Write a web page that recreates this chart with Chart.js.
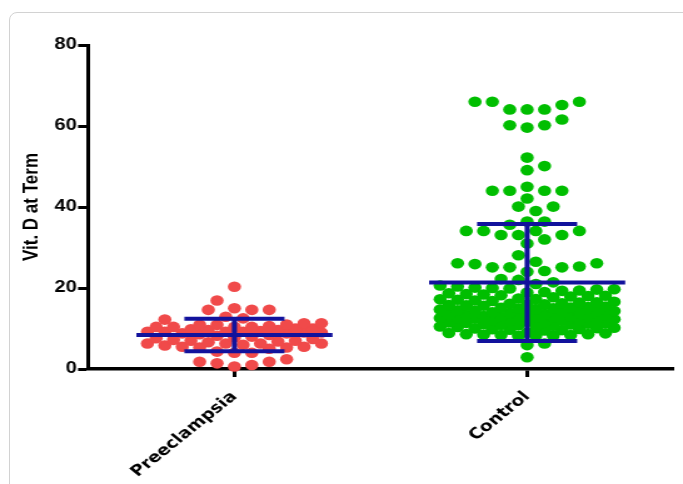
<!DOCTYPE html>
<html>
<head>
<meta charset="utf-8">
<script src="https://cdn.jsdelivr.net/npm/chart.js@4.4.0/dist/chart.umd.min.js"></script>
<style>
  html, body { margin: 0; padding: 0; background: #fff; }
  #wrap { position: relative; width: 683px; height: 484px; overflow: hidden; }
  #frame { position: absolute; left: 9px; top: 12px; width: 720px; height: 520px; border: 1px solid #d2d2d2; border-radius: 8px; }
  #chart { position: absolute; left: 0; top: 0; }
</style>
</head>
<body>
<div id="wrap"><div id="frame"></div><canvas id="chart" width="546" height="484" style="width:683px;height:484px"></canvas></div>
<script>
const categories = ['Preeclampsia', 'Control'];

const preeclampsiaValues = [
  20.3, 16.9, 15.0, 14.6, 14.6, 14.6, 12.9, 12.5, 12.2, 11.3, 11.3, 11.0,
  10.9, 10.9, 10.6, 10.4, 10.4, 10.4, 10.4, 10.0, 10.0, 9.8, 9.6, 9.6,
  9.4, 9.2, 9.2, 9.2, 9.2, 9.0, 9.0, 8.8, 8.8, 8.6, 8.4, 8.2, 8.0, 7.8,
  7.6, 7.4, 7.2, 7.0, 7.0, 6.8, 6.6, 6.3, 6.3, 6.3, 6.3, 6.0, 5.8, 5.5,
  5.5, 5.3, 5.3, 5.0, 4.3, 4.0, 4.0, 2.4, 1.8, 1.8, 1.4, 1.0, 0.6
];

const controlValues = [
  66.0, 66.0, 66.0, 65.2, 64.1, 64.1, 64.1, 61.6, 60.2, 60.2, 59.6, 52.2,
  50.1, 49.1, 45.0, 44.0, 44.0, 44.0, 44.0, 42.1, 40.1, 40.1, 39.0, 36.4,
  36.4, 35.6, 34.1, 34.1, 34.1, 34.1, 33.1, 33.1, 33.1, 32.0, 31.0, 28.1,
  26.5, 26.1, 26.1, 25.9, 25.3, 25.1, 25.1, 25.1, 24.2, 24.0, 22.2, 22.0,
  21.4,
  21.0, 20.6, 20.4, 20.1, 20.0, 19.9, 19.7, 19.6, 19.4, 19.3, 19.0, 18.9,
  18.7, 18.5, 18.4, 18.2, 18.1, 18.0, 17.9, 17.7, 17.4, 17.3, 17.2, 17.1,
  16.9, 16.8, 16.6, 16.5, 16.4, 16.2, 16.1, 16.0, 15.9, 15.8, 15.7, 15.6,
  15.4, 15.3, 15.2, 15.1, 15.0, 14.9, 14.8, 14.7, 14.5, 14.4, 14.3, 14.2,
  14.1, 14.0, 13.9, 13.8, 13.7, 13.6, 13.5, 13.4, 13.3, 13.2, 13.1, 13.0,
  12.9, 12.8, 12.8, 12.7, 12.6, 12.5, 12.4, 12.3, 12.2, 12.1, 12.0, 11.9,
  11.8, 11.7, 11.6, 11.5, 11.4, 11.3, 11.2, 11.1, 11.0, 10.9, 10.8, 10.7,
  10.6, 10.5, 10.4, 10.2, 10.1, 10.0, 9.9, 9.8, 9.7, 9.6, 9.5,
  9.0, 8.9, 8.8, 8.6, 8.6, 8.5, 8.4, 8.4, 8.3, 8.3, 8.2, 6.3, 5.9, 2.9
];

const groupMeans = [8.4, 21.35];
const groupSD = [4.0, 14.45];
const yTicks = [0, 20, 40, 60, 80];

// the source figure is stretched sideways, so the canvas is drawn narrow and widened by css
const stretch = 683 / 546;
const pxPerY = 324 / 80;
const pxPerX = 234 * stretch;   // screen px per x unit (x axis runs 0..2 over 468 canvas px)

// simple beeswarm: place sorted values centre-out, avoiding overlap where possible
function swarm(values, center, maxHalf) {
  const dotW = 13, dotH = 11, step = 8.7;
  const kMax = Math.floor(maxHalf / step);
  const order = [0];
  for (let k = 1; k <= kMax; k++) order.push(k, -k);
  const placed = [];
  values.slice().sort((a, b) => a - b).forEach(v => {
    const py = v * pxPerY;
    let best = 0, bestGap = -1;
    for (const k of order) {
      const px = k * step;
      let gap = Infinity;
      placed.forEach(p => {
        const d = Math.hypot((p.px - px) / dotW, (p.py - py) / dotH);
        if (d < gap) gap = d;
      });
      if (gap >= 0.98) { best = px; break; }
      if (gap > bestGap) { bestGap = gap; best = px; }
    }
    placed.push({px: best, py: py, v: v});
  });
  return placed.map(p => ({x: center + p.px / pxPerX, y: p.v}));
}

function errorBar(i) {
  const c = i + 0.5, m = groupMeans[i], s = groupSD[i];
  const w = 0.335, cap = 0.171;
  return [
    {x: c - w, y: m}, {x: c + w, y: m}, {x: c, y: null},
    {x: c - cap, y: m + s}, {x: c + cap, y: m + s}, {x: c, y: null},
    {x: c - cap, y: m - s}, {x: c + cap, y: m - s}, {x: c, y: null},
    {x: c, y: m - s}, {x: c, y: m + s}
  ];
}

const blue = '#12129c';
const lineSet = i => ({
  type: 'line', data: errorBar(i), showLine: true, spanGaps: false, fill: false,
  borderColor: blue, borderWidth: 4, borderCapStyle: 'butt', pointRadius: 0, order: 0, clip: false
});

var ctx = document.getElementById('chart').getContext('2d');
var chart = new Chart(ctx, {
  type: 'scatter',
  data: {
    datasets: [
      lineSet(0),
      lineSet(1),
      {
        data: swarm(preeclampsiaValues, 0.5, 88),
        backgroundColor: '#f04a4a', borderWidth: 0, pointRadius: 5.3, order: 1, clip: false
      },
      {
        data: swarm(controlValues, 1.5, 95),
        backgroundColor: '#00be00', borderWidth: 0, pointRadius: 5.3, order: 1, clip: false
      }
    ]
  },
  options: {
    responsive: false,
    animation: false,
    devicePixelRatio: 1,
    layout: { padding: { left: 0, right: 7.6, top: 45, bottom: 0 } },
    plugins: { legend: { display: false }, tooltip: { enabled: false } },
    scales: {
      x: {
        type: 'linear', min: 0, max: 2,
        afterBuildTicks: a => { a.ticks = [{value: 0.5}, {value: 1.5}]; },
        afterFit: s => { s.height = 115; },
        grid: { drawOnChartArea: false, tickLength: 8, tickWidth: 3, tickColor: '#000' },
        border: { color: '#000', width: 3.5 },
        ticks: {
          autoSkip: false, minRotation: 45, maxRotation: 45, padding: 11, color: '#000',
          font: { family: 'DejaVu Sans', weight: 'bold', size: 15 },
          callback: v => categories[Math.round(v - 0.5)]
        }
      },
      y: {
        type: 'linear', min: 0, max: 80,
        afterBuildTicks: a => { a.ticks = yTicks.map(v => ({value: v})); },
        afterFit: s => { s.width = 70.4; },
        grid: { drawOnChartArea: false, tickLength: 8, tickWidth: 3, tickColor: '#000' },
        border: { color: '#000', width: 3 },
        ticks: {
          padding: 1, color: '#000',
          font: { family: 'Liberation Sans', weight: 'bold', size: 16 }
        },
        title: {
          display: true, text: 'Vit. D at Term', color: '#000',
          font: { family: 'Liberation Sans', weight: 'bold', size: 17 },
          padding: { top: 15, bottom: 0 }
        }
      }
    }
  }
});
</script>
</body>
</html>
